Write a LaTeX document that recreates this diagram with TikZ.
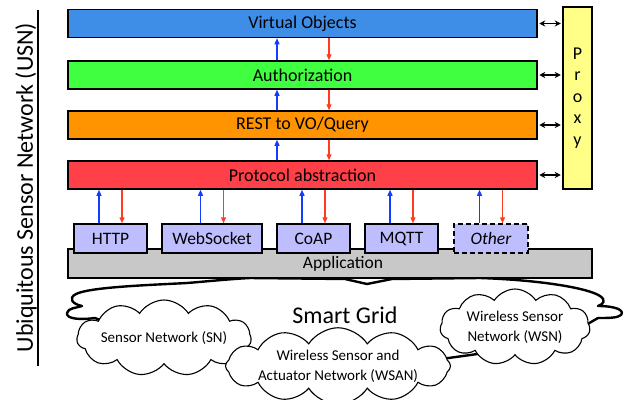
\documentclass[tikz,border=0pt]{standalone}
\usepackage{fontspec}
\setmainfont{Carlito}
\usetikzlibrary{shapes.symbols,arrows.meta}
\definecolor{voblue}{RGB}{62,142,232}
\definecolor{authgreen}{RGB}{64,255,64}
\definecolor{restorange}{RGB}{255,148,0}
\definecolor{pared}{RGB}{255,64,72}
\definecolor{proxyyellow}{RGB}{255,255,136}
\definecolor{protofill}{RGB}{190,190,255}
\definecolor{appgray}{RGB}{200,200,200}
\definecolor{upblue}{RGB}{20,60,255}
\definecolor{downred}{RGB}{255,60,30}
\begin{document}
\begin{tikzpicture}[x=1pt,y=-1pt,
  layer/.style={draw=black, line width=1.5pt, minimum width=469pt, minimum height=28pt, inner sep=0pt, font=\fontsize{18}{20}\selectfont},
  proto/.style={draw=black, line width=1.5pt, fill=protofill, minimum height=29pt, inner sep=0pt, font=\fontsize{17.5}{20}\selectfont},
  uparr/.style={draw=upblue, line width=1.2pt, -{Triangle[length=6pt,width=5pt]}},
  downarr/.style={draw=downred, line width=1.2pt, -{Triangle[length=6pt,width=5pt]}},
  dblarr/.style={draw=black, line width=1.3pt, {Stealth[length=6pt,width=6pt]}-{Stealth[length=6pt,width=6pt]}, shorten <=1.5pt, shorten >=1.5pt},
  cloudn/.style={shape=cloud, draw=black, line width=1.1pt, fill=white, cloud ignores aspect, cloud puff arc=115, inner sep=0pt, align=center, font=\fontsize{15}{20}\selectfont},
  bigcloud/.style={draw=black, line width=2.4pt, fill=white, line join=round}
]
\useasboundingbox (0,0) rectangle (628,399);

% vertical title
\node[rotate=90, font=\fontsize{24}{26}\selectfont] (usn) at (26,187.5) {Ubiquitous Sensor Network (USN)};
\draw[line width=1.1pt] (38,10) -- (38,366);

% layers
\node[layer, fill=voblue] (vo) at (302.5,23.5) {Virtual Objects};
\node[layer, fill=authgreen] (auth) at (302.5,75) {Authorization};
\node[layer, fill=restorange] (rest) at (302.5,125) {REST to VO/Query};
\node[layer, fill=pared] (pa) at (302.5,175) {Protocol abstraction};

% proxy
\node[draw=black, line width=1.5pt, fill=proxyyellow, minimum width=29pt, minimum height=182pt, inner sep=0pt, align=center, font=\fontsize{18}{21.5}\selectfont] (proxy) at (577.5,98) {P\\r\\o\\x\\y};

\foreach \l in {vo,auth,rest,pa}
  \draw[dblarr] (\l.east) -- (\l.east -| proxy.west);

% arrows between layers
\coordinate (bx) at (277,0);
\coordinate (rx) at (329,0);
\draw[uparr] (auth.north -| bx) -- (vo.south -| bx);
\draw[uparr] (rest.north -| bx) -- (auth.south -| bx);
\draw[uparr] (pa.north -| bx) -- (rest.south -| bx);
\draw[downarr] (vo.south -| rx) -- (auth.north -| rx);
\draw[downarr] (auth.south -| rx) -- (rest.north -| rx);
\draw[downarr] (rest.south -| rx) -- (pa.north -| rx);

% big smart grid cloud
\draw[bigcloud] (95,318)
  .. controls (80,320) and (66,319) .. (67,313)
  .. controls (68,308) and (76,308) .. (82,306)
  .. controls (72,304) and (68,298) .. (76,294)
  .. controls (90,287) and (150,285) .. (187,283)
  .. controls (200,282) and (230,279) .. (250,278)
  -- (345,279) -- (367,284) -- (392,279)
  -- (480,278)
  .. controls (540,280) and (588,288) .. (600,296)
  .. controls (606,300) and (604,304) .. (598,306)
  .. controls (615,306) and (625,310) .. (621,315)
  .. controls (618,318) and (608,318) .. (598,318)
  -- (560,340)
  .. controls (500,352) and (460,356) .. (435,360)
  -- (340,362)
  -- (248,351)
  -- (150,340)
  -- cycle;

% application
\node[draw=black, line width=1.5pt, fill=appgray, minimum width=524pt, minimum height=29pt, inner sep=0pt] (app) at (330,263.5) {};
\node[font=\fontsize{17.5}{20}\selectfont] (applabel) at (343,264) {Application};

% protocol boxes
\node[proto, minimum width=73pt] (http) at (110.5,238.5) {HTTP};
\node[proto, minimum width=100pt] (ws) at (212,238.5) {WebSocket};
\node[proto, minimum width=73pt] (coap) at (313.5,238.5) {CoAP};
\node[proto, minimum width=73pt] (mqtt) at (401.5,238.5) {MQTT};
\node[proto, minimum width=74pt, dashed, dash pattern=on 5pt off 3pt] (other) at (491,238.5) {\itshape Other};

\foreach \p in {http,ws,coap,mqtt,other}{
  \draw[uparr] ([xshift=-11.5pt]\p.north) -- ([xshift=-11.5pt]\p.north |- pa.south);
  \draw[downarr] ([xshift=11.5pt]\p.north |- pa.south) -- ([xshift=11.5pt]\p.north);
}

% small clouds
\node[cloudn, cloud puffs=11, minimum width=156pt, minimum height=76pt] (sn) at (164,338) {Sensor Network (SN)};
\node[cloudn, cloud puffs=12, minimum width=180pt, minimum height=74pt] (wsan) at (338,366) {Wireless Sensor and\\Actuator Network (WSAN)};
\node[cloudn, cloud puffs=11, minimum width=150pt, minimum height=76pt] (wsn) at (515,327) {Wireless Sensor\\Network (WSN)};

\node[font=\fontsize{24}{26}\selectfont] (sg) at (345,315) {Smart Grid};
\end{tikzpicture}
\end{document}
